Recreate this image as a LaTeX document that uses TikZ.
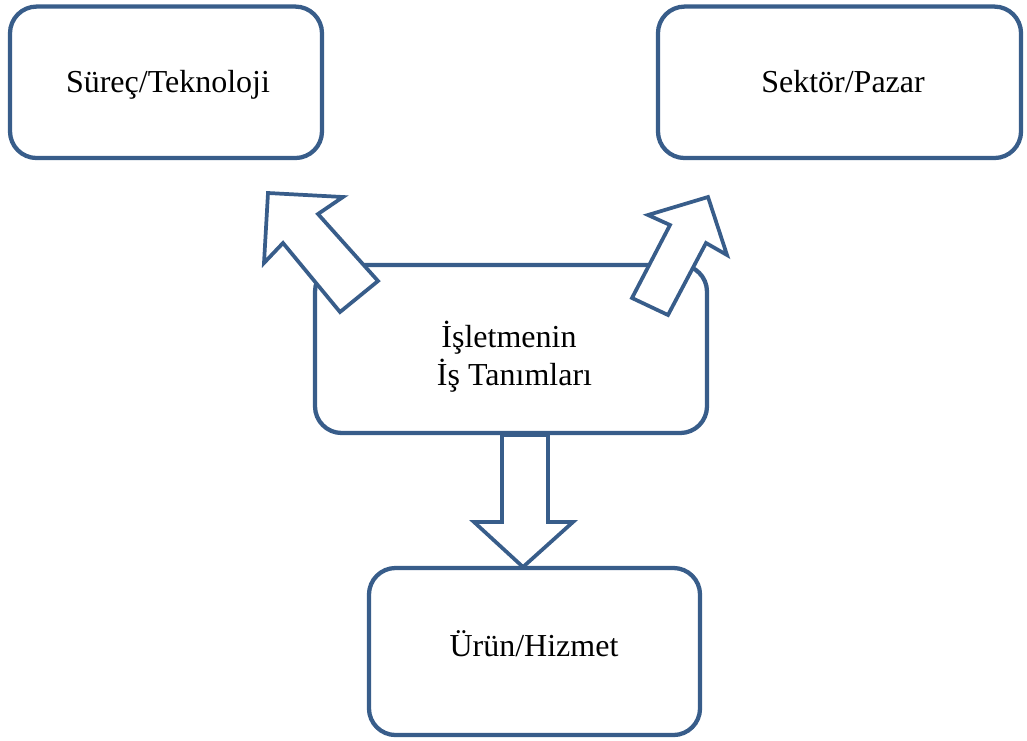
\documentclass[tikz,border=0pt]{standalone}
\usepackage{fontspec}
\setmainfont{Liberation Serif}
\definecolor{boxblue}{RGB}{56,93,138}
\begin{document}
\begin{tikzpicture}[x=0.75pt,y=-0.75pt,
  box/.style={draw=boxblue, line width=3.2pt, rounded corners=20pt, fill=white, inner sep=0pt},
  label/.style={anchor=base, inner sep=0pt, font=\fontsize{24}{28.5}\selectfont},
  blockarrow/.style={draw=boxblue, line width=2.8pt, fill=white, line join=miter}]
\useasboundingbox (0,0) rectangle (1027,740);
\node[box, minimum width=234pt, minimum height=113.6pt] (proc) at (166,82.3) {};
\node[box, minimum width=272.3pt, minimum height=113.6pt] (market) at (839.5,82.3) {};
\node[box, minimum width=294pt, minimum height=126pt] (core) at (511,349) {};
\node[box, minimum width=248.3pt, minimum height=125.3pt] (prod) at (534.5,651.5) {};
\node[label] (proctext) at (168,92) {Süreç/Teknoloji};
\node[label] (markettext) at (843,92) {Sektör/Pazar};
\node[label] (coretexta) at (509,347) {İşletmenin};
\node[label] (coretextb) at (514.5,385) {İş Tanımları};
\node[label] (prodtext) at (534,656) {Ürün/Hizmet};
% block arrows
\draw[blockarrow] (268,193) -- (343,197) -- (318,214) -- (378,281) -- (340,312) -- (283,243) -- (264,263) -- cycle;
\draw[blockarrow] (708,197) -- (727,255) -- (706,243) -- (668,315) -- (632,298) -- (670,225) -- (648,215) -- cycle;
\draw[blockarrow] (502,435) -- (548,435) -- (548,522) -- (573,522) -- (523,567) -- (474,522) -- (502,522) -- cycle;
\end{tikzpicture}
\end{document}
